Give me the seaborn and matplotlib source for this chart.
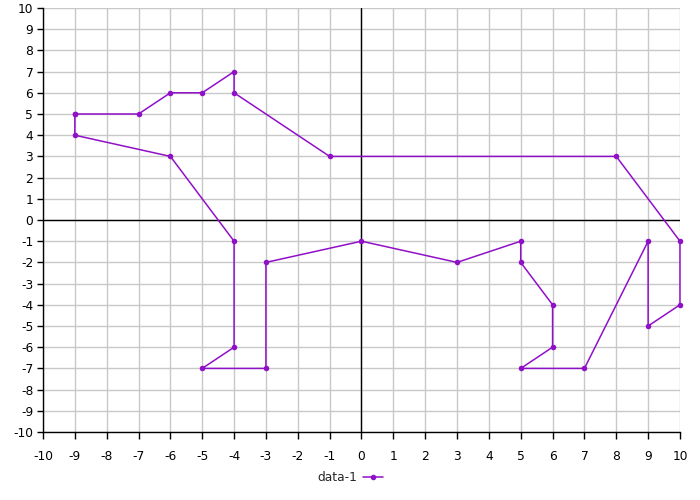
import pandas as pd
import numpy as np
import matplotlib
matplotlib.use("Agg")
import matplotlib.pyplot as plt
import seaborn as sns

# outline of the dog, in drawing order (closed loop)
xs = [-9, -7, -6, -5, -4, -4, -1, 8, 10, 10, 9, 9, 7, 5, 6, 6, 5, 5, 3, 0,
      -3, -3, -5, -4, -4, -6, -9, -9]
ys = [5, 5, 6, 6, 7, 6, 3, 3, -1, -4, -5, -1, -7, -7, -6, -4, -2, -1, -2, -1,
      -2, -7, -7, -6, -1, 3, 4, 5]
ticks = list(range(-10, 11))

df = pd.DataFrame({"x": xs, "y": ys})

sns.set_theme(style="white")
plt.rcParams["font.family"] = ["DejaVu Sans"]
plt.rcParams["axes.unicode_minus"] = False

color = "#9010c8"

fig = plt.figure(figsize=(7, 5), dpi=100)
ax = fig.add_axes([0.0614, 0.136, 0.91, 0.848])

ax.grid(True, color="#c8c8c8", linewidth=1)
ax.set_axisbelow(True)
ax.axhline(0, color="black", linewidth=1, zorder=1.5)
ax.axvline(0, color="black", linewidth=1, zorder=1.5)

sns.lineplot(data=df, x="x", y="y", sort=False, estimator=None, ax=ax,
             color=color, linewidth=1.1, marker="o", markersize=4,
             markeredgewidth=0, label="data-1", legend=False, clip_on=False)

ax.set_xlim(-10, 10)
ax.set_ylim(-10, 10)
ax.set_xticks(ticks)
ax.set_yticks(ticks)
ax.set_xlabel("")
ax.set_ylabel("")
ax.tick_params(axis="both", labelsize=8.8, colors="black", length=5,
               width=1, direction="out", pad=8)
ax.tick_params(axis="y", length=4, pad=3)
ax.xaxis.set_ticks_position("bottom")
ax.yaxis.set_ticks_position("left")

for side in ["top", "right"]:
    ax.spines[side].set_visible(False)
for side in ["left", "bottom"]:
    ax.spines[side].set_color("black")
    ax.spines[side].set_linewidth(1)

handles, labels = ax.get_legend_handles_labels()
fig.legend(handles, labels, loc="center", bbox_to_anchor=(0.5, 0.045),
           frameon=False, markerfirst=False, fontsize=8.8,
           handlelength=1.6, handletextpad=0.5)

fig.savefig("out.png", dpi=100)
